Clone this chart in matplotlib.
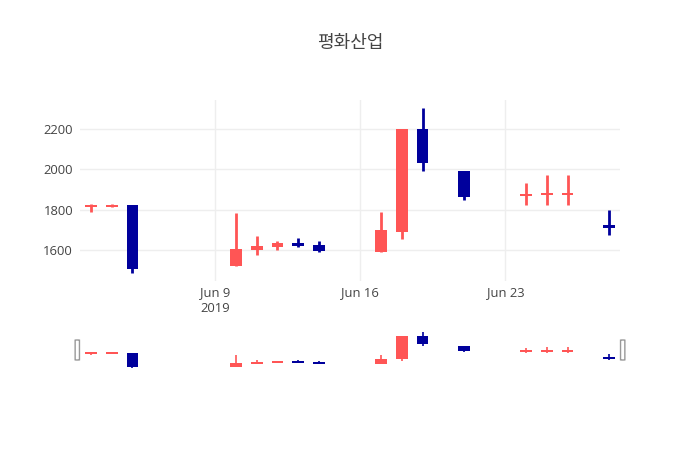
import datetime as dt
import matplotlib
matplotlib.use("Agg")
import matplotlib.pyplot as plt
import matplotlib.dates as mdates
from matplotlib.patches import FancyBboxPatch

plt.rcParams['font.family'] = ['Open Sans', 'Noto Sans CJK KR', 'DejaVu Sans']

# daily prices
dates = ["2019-06-03", "2019-06-04", "2019-06-05", "2019-06-10", "2019-06-11",
         "2019-06-12", "2019-06-13", "2019-06-14", "2019-06-17", "2019-06-18",
         "2019-06-19", "2019-06-21", "2019-06-24", "2019-06-25", "2019-06-26",
         "2019-06-28"]
opens = [1815, 1815, 1825, 1520, 1600, 1615, 1635, 1625, 1590, 1690, 2200, 1990,
         1870, 1875, 1875, 1725]
highs = [1830, 1830, 1825, 1785, 1670, 1645, 1660, 1645, 1790, 2200, 2305, 1990,
         1930, 1970, 1970, 1800]
lows = [1790, 1815, 1485, 1520, 1575, 1600, 1615, 1590, 1590, 1655, 1990, 1850,
        1825, 1825, 1825, 1675]
closes = [1825, 1825, 1505, 1605, 1620, 1635, 1620, 1595, 1700, 2200, 2030, 1865,
          1880, 1885, 1885, 1710]
title = "평화산업"

UP = "#FF5555"
DOWN = "#00009C"
TXT = "#444444"

x = mdates.date2num([dt.datetime.strptime(d, "%Y-%m-%d") for d in dates])
colors = [UP if c >= o else DOWN for o, c in zip(opens, closes)]
x_lo = x[0] - 0.53
x_hi = x[-1] + 0.53
span = max(highs) - min(lows)
y_lo = min(lows) - span * 0.05
y_hi = max(highs) + span * 0.05


def candles(ax, wick_lw, body_w, min_h):
    ax.vlines(x, lows, highs, colors=colors, linewidth=wick_lw, zorder=2)
    heights = [max(abs(c - o), min_h) for o, c in zip(opens, closes)]
    bottoms = [(o + c) / 2 - h / 2 for o, c, h in zip(opens, closes, heights)]
    ax.bar(x, heights, bottom=bottoms, width=body_w, color=colors,
           linewidth=0, zorder=3)


fig = plt.figure(figsize=(7, 4.5), dpi=100)

# main price axis
ax = fig.add_axes([80 / 700, 1 - 281 / 450, 540 / 700, 181 / 450])
candles(ax, 2.0, 0.56, 10)
ax.set_xlim(x_lo, x_hi)
ax.set_ylim(y_lo, y_hi)
ax.set_yticks([1600, 1800, 2000, 2200])
ax.xaxis.set_major_locator(mdates.DayLocator(bymonthday=[9, 16, 23]))
ax.set_xticks(ax.get_xticks())
ax.set_xticklabels(["Jun 9\n2019", "Jun 16", "Jun 23"])
ax.grid(True, color="#eeeeee", linewidth=1, zorder=0)
ax.set_axisbelow(True)
for s in ax.spines.values():
    s.set_visible(False)
ax.tick_params(length=0, colors=TXT, labelsize=9.4, pad=4)
ax.tick_params(axis="y", pad=5)
for lab in ax.get_xticklabels():
    lab.set_linespacing(1.25)

# range slider
sl = fig.add_axes([80 / 700, 1 - 370 / 450, 540 / 700, 40 / 450])
candles(sl, 1.2, 0.56, 45)
sl.set_xlim(x_lo, x_hi)
sl.set_ylim(y_lo, y_hi)
sl.set_xticks([])
sl.set_yticks([])
for s in sl.spines.values():
    s.set_visible(False)
for hx in (-0.005, 1.005):
    sl.add_patch(FancyBboxPatch((hx - 0.004, 0.25), 0.008, 0.5,
                                boxstyle="round,pad=0,rounding_size=0.004",
                                transform=sl.transAxes, clip_on=False,
                                facecolor="white", edgecolor="#999999",
                                linewidth=1, zorder=5))

fig.text(0.5, 1 - 43 / 450, title, ha="center", va="center", fontsize=13,
         color=TXT)

fig.savefig("out.png", dpi=100)
